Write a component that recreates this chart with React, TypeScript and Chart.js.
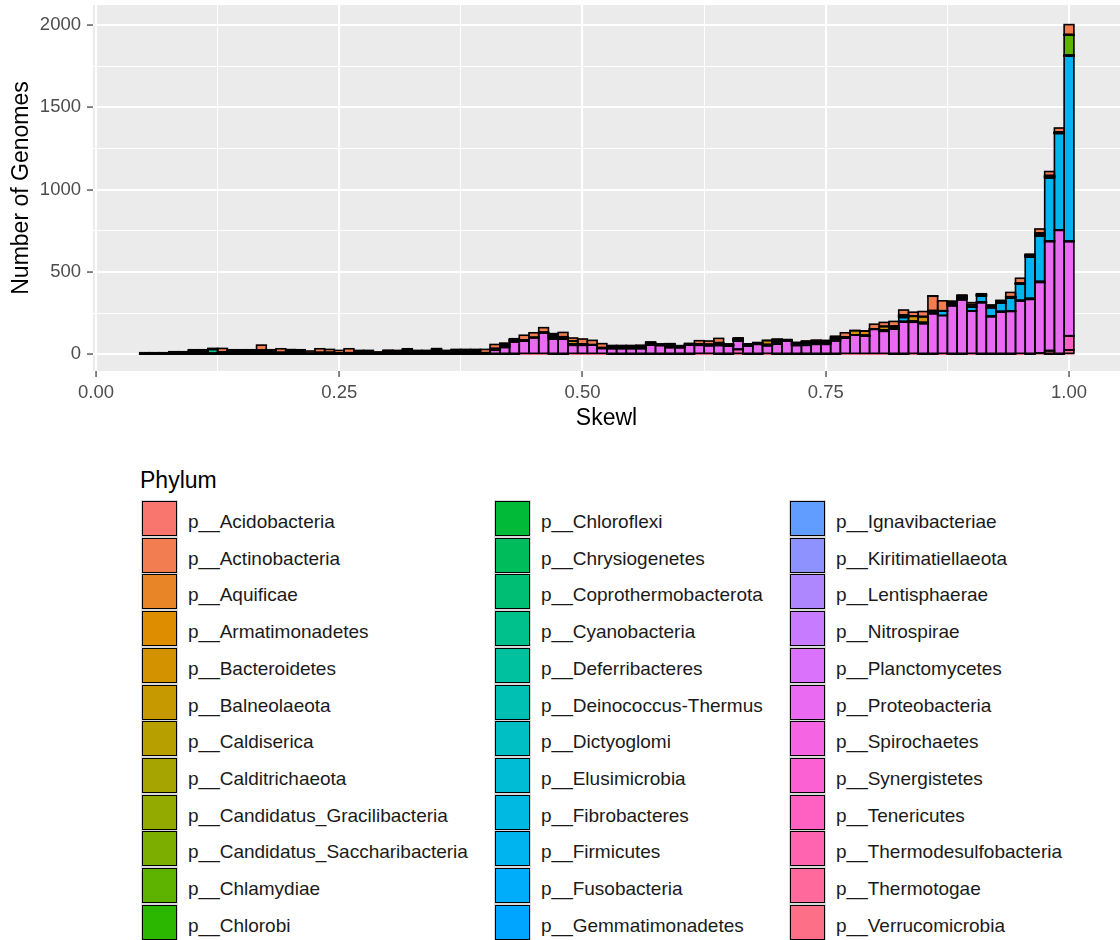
import React, { useEffect, useRef } from "react";
import { Chart, registerables } from "chart.js";

Chart.register(...registerables);

const FONT = '"Liberation Sans", Arial, Helvetica, sans-serif';

// ---- categories (histogram bin centres, binwidth 0.01) ----
const binCenters = [
  0.05, 0.06, 0.07, 0.08, 0.09, 0.10, 0.11, 0.12, 0.13, 0.14, 0.15, 0.16,
  0.17, 0.18, 0.19, 0.20, 0.21, 0.22, 0.23, 0.24, 0.25, 0.26, 0.27, 0.28,
  0.29, 0.30, 0.31, 0.32, 0.33, 0.34, 0.35, 0.36, 0.37, 0.38, 0.39, 0.40,
  0.41, 0.42, 0.43, 0.44, 0.45, 0.46, 0.47, 0.48, 0.49, 0.50, 0.51, 0.52,
  0.53, 0.54, 0.55, 0.56, 0.57, 0.58, 0.59, 0.60, 0.61, 0.62, 0.63, 0.64,
  0.65, 0.66, 0.67, 0.68, 0.69, 0.70, 0.71, 0.72, 0.73, 0.74, 0.75, 0.76,
  0.77, 0.78, 0.79, 0.80, 0.81, 0.82, 0.83, 0.84, 0.85, 0.86, 0.87, 0.88,
  0.89, 0.90, 0.91, 0.92, 0.93, 0.94, 0.95, 0.96, 0.97, 0.98, 0.99, 1.00,
];

// ---- tick labels ----
const xMajorTicks = [0, 0.25, 0.5, 0.75, 1];
const xTickLabels = ["0.00", "0.25", "0.50", "0.75", "1.00"];
const xMinorTicks = [0.125, 0.375, 0.625, 0.875];
const yMajorTicks = [0, 500, 1000, 1500, 2000];
const yTickLabels = ["0", "500", "1000", "1500", "2000"];
const yMinorTicks = [250, 750, 1250, 1750];

const xTitle = "Skewl";
const yTitle = "Number of Genomes";
const legendTitle = "Phylum";

// ---- phyla (legend order) ----
const phyla = [
  "p__Acidobacteria", "p__Actinobacteria", "p__Aquificae", "p__Armatimonadetes",
  "p__Bacteroidetes", "p__Balneolaeota", "p__Caldiserica", "p__Calditrichaeota",
  "p__Candidatus_Gracilibacteria", "p__Candidatus_Saccharibacteria", "p__Chlamydiae", "p__Chlorobi",
  "p__Chloroflexi", "p__Chrysiogenetes", "p__Coprothermobacterota", "p__Cyanobacteria",
  "p__Deferribacteres", "p__Deinococcus-Thermus", "p__Dictyoglomi", "p__Elusimicrobia",
  "p__Fibrobacteres", "p__Firmicutes", "p__Fusobacteria", "p__Gemmatimonadetes",
  "p__Ignavibacteriae", "p__Kiritimatiellaeota", "p__Lentisphaerae", "p__Nitrospirae",
  "p__Planctomycetes", "p__Proteobacteria", "p__Spirochaetes", "p__Synergistetes",
  "p__Tenericutes", "p__Thermodesulfobacteria", "p__Thermotogae", "p__Verrucomicrobia",
];

// ---- counts per bin (12 bins per group) ----
const acidobacteria = [
  0,0,0,0,0,0,0,0,0,0,0,0, 0,0,0,0,0,0,0,0,0,0,0,0, 0,0,0,0,0,0,0,0,0,0,0,0, 0,0,0,0,0,0,0,0,0,0,0,0,
  0,0,0,0,0,0,0,0,0,0,0,0, 0,0,0,0,0,0,0,0,0,0,0,0, 0,0,0,0,0,0,0,0,0,2,0,0, 0,0,0,1,0,0,0,0,0,0,0,0,
];
const actinobacteria = [
  0,0,0,0,0,0,0,0,22,0,0,0, 30,0,22,0,0,14,22,18,16,24,0,0, 0,0,0,0,0,0,0,0,0,0,0,20, 24,0,0,30,28,28,0,26,18,30,26,24,
  0,0,0,0,0,0,0,0,0,20,20,26, 0,0,0,0,0,0,0,0,0,0,0,0, 26,0,0,28,24,28,30,24,30,87,60,0, 0,12,0,0,0,26,30,0,24,24,24,60,
];
const aquificae = [
  0,0,0,0,0,0,0,0,0,0,0,0, 0,0,0,0,0,0,0,0,0,0,0,0, 0,0,0,0,0,0,0,0,0,0,0,0, 0,0,0,0,0,0,0,0,0,0,0,0,
  0,0,0,0,0,0,0,0,0,0,0,0, 0,0,0,0,0,1,0,0,0,0,0,0, 0,0,0,0,0,0,0,0,0,0,0,0, 0,0,0,0,0,0,0,0,0,0,0,0,
];
const armatimonadetes = [
  2,1,2,2,2,4,3,2,2,4,3,4, 3,3,2,4,3,1,2,1,1,2,3,3, 2,3,3,4,3,3,4,3,4,3,4,2, 2,4,3,1,1,1,4,2,1,1,1,1,
  3,2,3,2,3,2,3,2,1,1,1,3, 2,3,2,2,1,4,2,3,4,3,3,4, 1,1,1,1,1,3,3,1,2,3,1,4, 4,1,3,3,3,2,1,3,3,3,2,2,
];
const bacteroidetes = [
  0,0,0,0,0,0,0,0,0,0,0,0, 0,0,0,0,0,0,0,0,0,0,0,0, 0,0,0,0,0,0,0,0,0,0,0,0, 0,0,0,0,0,0,0,0,18,0,0,0,
  0,0,0,0,0,0,0,0,0,0,0,0, 0,0,0,0,24,0,0,0,0,0,0,0, 0,26,26,0,20,0,0,30,34,0,0,0, 0,12,0,0,0,0,0,0,0,0,0,0,
];
const balneolaeota = [
  0,0,0,0,0,0,0,0,0,0,0,0, 0,0,0,0,0,0,0,0,0,0,0,0, 0,0,0,0,0,0,0,0,0,0,0,0, 0,0,0,0,0,0,0,0,0,0,0,0,
  0,0,0,0,0,0,0,0,0,0,0,0, 0,0,0,0,0,0,0,0,0,0,0,0, 0,0,0,0,2,0,0,0,0,0,0,0, 0,0,0,0,0,0,0,0,0,0,0,0,
];
const caldiserica = [
  0,0,0,0,0,0,0,0,0,0,0,0, 0,0,0,0,0,0,0,0,0,0,0,0, 0,0,0,0,0,0,0,0,0,0,0,0, 0,0,0,0,0,0,0,0,0,0,0,0,
  0,0,0,1,0,0,0,0,0,0,0,0, 0,0,0,0,0,0,0,0,0,0,0,0, 0,0,0,0,0,0,0,0,0,0,0,0, 0,0,0,0,0,0,0,0,0,0,0,0,
];
const calditrichaeota = [
  0,0,0,0,0,0,0,0,0,0,0,0, 0,0,0,0,0,0,0,0,0,0,0,0, 0,0,0,0,0,0,0,0,0,0,0,0, 0,0,0,0,0,0,0,0,0,0,0,0,
  0,0,0,0,0,0,0,0,0,0,0,0, 0,0,0,0,0,0,0,0,0,0,0,0, 0,0,0,0,0,0,0,0,0,0,0,0, 1,0,0,0,0,0,0,0,0,0,0,0,
];
const gracilibacteria = [
  0,0,0,0,0,0,0,0,0,0,0,0, 0,0,0,0,0,0,0,0,0,0,0,0, 0,0,0,0,0,0,1,0,0,0,0,0, 0,0,0,0,0,0,0,0,0,0,0,0,
  0,0,0,0,0,0,0,0,0,0,0,0, 0,0,0,0,0,0,0,0,0,0,0,0, 0,0,0,0,0,0,0,0,0,0,0,0, 0,0,0,0,0,0,0,0,0,0,0,0,
];
const saccharibacteria = [
  1,2,1,2,2,3,4,1,2,3,3,3, 3,4,1,3,3,1,1,2,1,1,3,3, 2,3,3,4,3,3,4,3,3,4,3,1, 1,3,2,1,0,0,4,2,1,1,0,1,
  2,3,2,3,2,1,3,2,2,1,1,2, 2,2,1,1,1,4,1,2,3,3,3,3, 1,0,1,0,1,2,2,1,1,2,0,3, 3,0,2,3,2,1,1,3,3,2,1,1,
];
const chlamydiae = [
  0,0,0,0,0,0,0,0,0,0,0,0, 0,0,0,0,0,0,0,0,0,0,0,0, 0,0,0,0,0,0,0,0,0,0,0,0, 0,0,0,0,0,0,0,0,0,0,0,0,
  0,0,0,0,0,0,0,0,0,0,0,0, 0,0,0,0,0,0,0,0,0,0,0,0, 0,0,0,0,0,0,0,0,0,0,0,0, 0,0,0,0,0,0,0,0,0,0,0,123,
];
const chlorobi = [
  1,1,1,2,2,3,3,2,2,3,4,3, 4,3,2,3,4,1,2,1,1,1,3,3, 2,3,3,4,3,3,4,3,4,4,4,1, 2,3,3,1,0,1,4,2,1,1,0,0,
  3,2,2,3,3,1,3,1,1,1,1,2, 1,3,2,2,1,4,1,3,3,3,3,4, 0,0,0,1,1,3,3,0,1,3,1,3, 4,1,3,2,3,1,0,3,3,3,2,1,
];
const chloroflexi = [
  1,1,1,2,2,3,4,1,1,3,3,4, 3,3,1,3,3,0,1,2,1,1,3,3, 1,3,3,4,3,2,4,3,3,3,4,1, 1,3,2,0,1,0,4,2,1,1,1,1,
  2,3,3,2,2,1,3,2,1,1,1,2, 2,2,2,1,1,3,1,2,3,3,3,3, 1,1,1,0,1,2,2,1,1,2,0,3, 3,0,2,2,2,1,1,3,3,2,1,1,
];
const chrysiogenetes = [
  0,0,0,0,0,0,0,0,0,0,0,0, 0,0,0,0,0,0,0,0,0,0,0,0, 0,0,0,0,0,0,0,0,0,0,0,0, 0,0,0,0,0,0,0,0,0,0,0,0,
  0,0,0,0,0,0,0,0,0,0,0,0, 0,0,0,0,0,0,0,0,0,1,0,0, 0,0,0,0,0,0,0,0,0,0,0,0, 0,0,0,0,0,0,0,0,0,0,0,0,
];
const coprothermobacterota = [
  0,0,0,0,0,0,0,0,0,0,0,0, 0,0,0,1,0,0,0,0,0,0,0,0, 0,0,0,0,0,0,0,0,0,0,0,0, 0,0,0,0,0,0,0,0,0,0,0,0,
  0,0,0,0,0,0,0,0,0,0,0,0, 0,0,0,0,0,0,0,0,0,0,0,0, 0,0,0,0,0,0,0,0,0,0,0,0, 0,0,0,0,0,0,0,0,0,0,0,0,
];
const cyanobacteria = [
  1,1,1,2,2,4,3,24,2,4,3,3, 3,4,1,4,3,1,1,2,1,1,3,3, 2,3,3,4,3,3,4,3,4,4,3,1, 1,4,2,1,0,0,4,2,1,1,0,0,
  2,3,2,2,2,1,3,1,1,1,1,2, 1,2,1,1,1,4,1,2,4,3,3,4, 0,0,0,0,1,2,2,0,1,2,0,4, 4,1,2,3,2,1,0,3,3,2,1,1,
];
const deferribacteres = [
  0,0,0,0,0,0,0,0,0,0,0,0, 0,0,0,0,0,0,0,0,0,0,0,0, 0,0,0,0,0,0,0,0,0,0,0,0, 0,0,0,0,0,0,0,0,0,0,0,0,
  0,0,0,0,0,0,0,0,0,0,0,0, 0,0,0,0,0,0,0,0,0,0,0,0, 0,0,0,0,0,0,0,0,0,0,0,2, 0,0,0,0,0,0,0,0,0,0,0,0,
];
const deinococcusThermus = [
  1,1,1,2,2,3,3,2,1,3,4,3, 3,3,2,3,4,1,2,1,1,1,3,3, 1,3,2,4,3,3,4,3,3,3,3,1, 2,3,3,1,0,1,4,2,1,1,0,1,
  3,2,3,2,3,1,3,2,1,1,1,2, 2,3,2,2,1,3,1,3,3,3,3,3, 1,0,1,1,1,3,3,1,1,3,1,3, 3,0,3,2,3,1,1,3,3,3,2,1,
];
const dictyoglomi = [
  0,0,0,0,0,0,0,0,0,0,0,0, 0,0,0,0,0,0,0,0,0,0,0,0, 0,0,0,0,0,0,0,0,0,0,0,0, 0,0,0,0,0,0,0,0,0,0,0,0,
  0,0,0,0,0,0,0,0,1,0,0,0, 0,0,0,0,0,0,0,0,0,0,0,0, 0,0,0,0,0,0,0,0,0,0,0,0, 0,0,0,0,0,0,0,0,0,0,0,0,
];
const elusimicrobia = [
  0,0,0,0,0,0,0,0,0,0,0,0, 0,0,0,0,0,0,0,0,0,0,0,0, 0,0,0,0,0,0,0,0,0,0,0,0, 0,0,0,0,0,0,0,0,0,0,0,0,
  0,0,0,0,0,0,0,0,0,0,0,0, 0,0,0,0,0,0,0,0,0,0,0,0, 0,0,0,0,0,0,0,0,0,0,0,0, 0,0,0,0,2,0,0,0,0,0,0,0,
];
const fibrobacteres = [
  0,0,0,0,0,0,0,0,0,0,0,0, 0,0,0,0,0,0,0,0,0,0,0,0, 0,0,0,0,0,0,0,0,0,0,0,0, 0,0,0,0,0,0,0,0,0,0,0,0,
  0,0,0,0,0,0,0,0,0,0,0,0, 0,0,0,0,0,0,0,0,0,0,0,0, 0,0,1,0,0,0,0,0,0,0,0,0, 0,0,0,0,0,0,0,0,0,0,0,0,
];
const firmicutes = [
  0,0,0,0,0,0,0,0,0,0,0,0, 0,0,0,0,0,0,0,0,0,0,0,0, 0,0,0,0,0,0,0,0,0,0,0,0, 0,0,0,0,0,0,0,0,0,0,0,0,
  0,0,0,0,0,0,0,0,0,0,0,0, 0,0,0,0,0,0,0,0,0,0,0,0, 0,0,0,0,0,0,24,0,0,0,26,0, 0,24,34,50,50,80,100,250,276,382,586,1125,
];
const fusobacteria = [
  1,1,1,2,2,3,3,1,2,3,3,3, 3,3,1,3,3,0,1,1,1,1,2,3, 2,2,3,4,2,3,4,3,3,4,3,1, 1,3,2,0,0,0,4,2,1,1,0,0,
  2,2,2,3,2,1,3,1,1,1,1,2, 1,2,1,1,1,3,1,2,3,3,3,3, 0,0,0,0,1,2,2,0,1,2,0,3, 3,0,2,2,2,1,0,3,3,2,1,1,
];
const gemmatimonadetes = [
  0,0,0,0,0,0,0,0,0,0,0,0, 0,0,0,0,0,0,0,0,0,0,0,0, 0,0,0,0,0,0,0,0,0,0,0,0, 0,0,0,0,0,0,0,0,0,0,0,0,
  0,0,0,0,0,0,0,0,0,0,0,0, 0,0,0,0,0,0,0,0,0,0,0,0, 0,0,0,0,0,0,0,0,0,0,0,0, 0,0,0,0,0,0,2,0,0,0,0,0,
];
const ignavibacteriae = [
  0,0,0,0,0,0,0,0,0,0,0,0, 0,0,0,0,0,0,0,0,0,0,0,0, 0,0,0,0,0,0,0,0,0,0,0,0, 0,0,0,0,0,0,0,0,0,0,1,0,
  0,0,0,0,0,0,0,0,0,0,0,0, 0,0,0,0,0,0,0,0,0,0,0,0, 0,0,0,0,0,0,0,0,0,0,0,0, 0,0,0,0,0,0,0,0,0,0,0,0,
];
const kiritimatiellaeota = [
  0,0,0,0,0,0,0,0,0,0,0,0, 0,0,0,0,0,0,0,0,0,0,0,0, 0,0,0,0,0,0,0,0,0,0,0,0, 0,0,0,0,0,0,0,0,0,0,0,0,
  0,0,0,0,0,0,0,0,0,0,0,0, 0,0,1,0,0,0,0,0,0,0,0,0, 0,0,0,0,0,0,0,0,0,0,0,0, 0,0,0,0,0,0,0,0,0,0,0,0,
];
const lentisphaerae = [
  0,0,0,0,0,0,0,0,0,0,0,0, 0,0,0,0,0,0,0,0,0,0,0,0, 0,0,0,0,0,0,0,0,0,0,0,0, 0,0,0,0,0,0,0,0,0,0,0,0,
  0,0,0,0,0,0,0,0,0,0,0,0, 0,0,0,0,0,0,0,0,0,0,0,0, 0,0,0,0,0,0,0,0,0,0,0,0, 0,0,1,0,0,0,0,0,0,0,0,0,
];
const nitrospirae = [
  0,0,0,0,0,0,0,0,0,0,0,0, 0,0,0,0,0,0,0,0,0,0,0,0, 0,0,0,0,0,0,0,0,0,0,0,0, 0,0,0,0,0,0,0,0,0,0,0,0,
  0,0,0,0,0,0,0,0,0,0,0,0, 0,0,0,0,0,0,0,0,0,0,0,0, 0,0,0,0,0,0,0,2,0,0,0,0, 0,0,0,0,0,0,0,0,0,0,0,0,
];
const planctomycetes = [
  1,1,1,1,1,3,3,2,1,3,3,3, 3,3,1,3,3,1,1,1,1,1,3,2, 1,3,3,4,3,3,4,2,4,3,4,1, 1,3,2,1,0,0,5,1,1,1,0,1,
  2,2,2,2,2,1,3,1,1,1,1,2, 1,2,1,1,1,4,1,2,3,3,3,4, 1,0,1,0,1,2,2,1,1,2,0,3, 4,1,2,2,2,1,1,3,3,2,1,1,
];
const proteobacteria = [
  0,0,0,0,0,0,0,0,0,0,0,0, 0,0,0,0,0,0,0,0,0,0,0,0, 0,0,0,0,0,0,0,0,0,0,0,0,
  24,40,75,80,101,131,91,91,55,55,56,36,
  34,34,34,34,55,53,40,40,55,55,53,53,
  50,50,50,60,53,60,80,53,53,60,60,80,
  100,117,111,152,140,152,195,195,186,246,236,293,
  329,262,313,228,256,260,325,333,428,662,750,572,
];
const spirochaetes = [
  1,1,1,1,1,2,2,1,1,2,2,2, 1,2,1,2,2,0,1,1,0,1,1,1, 1,1,1,2,1,1,2,1,2,2,2,1, 1,2,1,0,0,0,2,1,0,0,0,0,
  1,1,1,1,1,1,1,1,1,0,0,1, 1,1,1,1,0,2,1,1,2,1,1,2, 0,0,0,0,0,1,1,0,1,1,0,2, 2,0,1,1,1,1,0,1,1,1,1,1,
];
const synergistetes = [
  0,0,0,0,0,0,0,0,0,0,0,0, 0,0,0,0,0,0,0,0,0,0,0,0, 0,0,0,0,0,0,0,0,0,0,0,0, 0,0,0,0,0,0,0,0,0,0,0,0,
  0,0,0,0,0,0,0,0,0,0,0,0, 0,0,0,0,0,0,0,0,0,0,0,0, 0,0,0,0,0,0,0,0,0,0,0,0, 0,0,0,0,0,0,0,0,0,0,2,0,
];
const tenericutes = [
  0,0,0,0,0,0,0,0,0,0,0,0, 0,0,0,0,0,0,0,0,0,0,0,0, 0,0,0,0,0,0,0,0,0,0,0,0, 0,0,0,0,0,0,0,0,0,0,0,0,
  0,0,0,0,0,0,0,0,0,0,0,0, 0,30,0,0,0,0,0,0,0,0,0,0, 0,0,0,0,0,0,0,0,0,0,0,0, 0,0,0,0,0,0,0,0,0,0,0,85,
];
const thermodesulfobacteria = [
  0,0,0,0,0,0,0,0,0,0,0,0, 0,0,0,0,0,0,0,0,0,0,0,0, 0,1,0,0,0,0,0,0,0,0,0,0, 0,0,0,0,0,0,0,0,0,0,0,0,
  0,0,0,0,0,0,0,0,0,0,0,0, 0,0,0,0,0,0,0,0,0,0,0,0, 0,0,0,0,0,0,0,0,0,0,0,0, 0,0,0,0,0,0,0,0,0,0,0,0,
];
const thermotogae = [
  0,0,0,0,0,0,0,0,0,0,0,0, 0,0,0,0,0,0,0,0,0,0,0,0, 0,0,0,0,0,0,0,0,0,0,0,0, 0,0,0,0,0,0,0,0,0,0,0,0,
  0,0,0,0,0,0,0,0,0,0,0,0, 0,0,0,0,0,0,0,0,0,0,0,0, 0,0,0,0,0,0,0,0,0,0,0,0, 0,0,0,0,0,0,0,0,8,20,0,27,
];
const verrucomicrobia = [
  0,0,0,0,0,0,0,0,0,0,0,0, 0,0,0,0,0,0,0,0,0,0,0,0, 0,0,0,0,0,0,0,0,0,0,0,0, 0,0,0,0,0,0,0,0,0,0,0,0,
  0,0,0,0,0,0,0,0,0,0,0,0, 0,0,0,0,0,0,0,0,0,0,0,0, 0,0,0,0,0,0,0,0,0,0,0,0, 0,0,0,0,0,0,0,0,0,2,0,0,
];

// series in the same order as `phyla`
const seriesList = [
  acidobacteria, actinobacteria, aquificae, armatimonadetes,
  bacteroidetes, balneolaeota, caldiserica, calditrichaeota,
  gracilibacteria, saccharibacteria, chlamydiae, chlorobi,
  chloroflexi, chrysiogenetes, coprothermobacterota, cyanobacteria,
  deferribacteres, deinococcusThermus, dictyoglomi, elusimicrobia,
  fibrobacteres, firmicutes, fusobacteria, gemmatimonadetes,
  ignavibacteriae, kiritimatiellaeota, lentisphaerae, nitrospirae,
  planctomycetes, proteobacteria, spirochaetes, synergistetes,
  tenericutes, thermodesulfobacteria, thermotogae, verrucomicrobia,
];

// ggplot2 default discrete hue palette (hcl, c = 100, l = 65)
function hclHex(h: number, c: number, l: number): string {
  const rad = (h * Math.PI) / 180;
  const U = c * Math.cos(rad);
  const V = c * Math.sin(rad);
  const Y = l > 7.999592 ? Math.pow((l + 16) / 116, 3) : l / 903.3;
  const u = U / (13 * l) + 0.1978398;
  const v = V / (13 * l) + 0.4683363;
  const X = (9 * Y * u) / (4 * v);
  const Z = -X / 3 - 5 * Y + (3 * Y) / v;
  const g = (t: number) => (t > 0.00304 ? 1.055 * Math.pow(t, 1 / 2.4) - 0.055 : 12.92 * t);
  const r = g(3.240479 * X - 1.53715 * Y - 0.498535 * Z);
  const gg = g(-0.969256 * X + 1.875992 * Y + 0.041556 * Z);
  const b = g(0.055648 * X - 0.204043 * Y + 1.057311 * Z);
  const hx = (t: number) => {
    const n = Math.round(Math.min(1, Math.max(0, t)) * 255);
    return n.toString(16).padStart(2, "0");
  };
  return "#" + hx(r) + hx(gg) + hx(b);
}
function huePalette(n: number): string[] {
  const out: string[] = [];
  for (let i = 0; i < n; i++) out.push(hclHex(15 + (360 / n) * i, 100, 65));
  return out;
}
const palette = huePalette(phyla.length);

// ggplot-style black outline around every stacked segment
const outlinePlugin = {
  id: "segmentOutline",
  afterDatasetsDraw(chart: any) {
    const { ctx, chartArea } = chart;
    ctx.save();
    ctx.beginPath();
    ctx.rect(chartArea.left, chartArea.top, chartArea.right - chartArea.left, chartArea.bottom - chartArea.top);
    ctx.clip();
    ctx.strokeStyle = "#000000";
    ctx.lineWidth = 1.6;
    chart.data.datasets.forEach((ds: any, i: number) => {
      const meta = chart.getDatasetMeta(i);
      meta.data.forEach((el: any, j: number) => {
        const val = ds.data[j].y;
        if (!val) return;
        const p = el.getProps(["x", "y", "base", "width"], true);
        const top = Math.min(p.y, p.base);
        ctx.strokeRect(p.x - p.width / 2, top, p.width, Math.abs(p.base - p.y));
      });
    });
    ctx.restore();
  },
};

const panelPlugin = {
  id: "panelBg",
  beforeDraw(chart: any) {
    const { ctx, chartArea } = chart;
    ctx.save();
    ctx.fillStyle = "#EBEBEB";
    ctx.fillRect(chartArea.left, chartArea.top, chartArea.right - chartArea.left, chartArea.bottom - chartArea.top);
    ctx.restore();
  },
};

function HistogramChart() {
  const ref = useRef<HTMLCanvasElement | null>(null);
  useEffect(() => {
    if (!ref.current) return;
    const datasets = phyla
      .map((name, i) => ({
        label: name,
        data: binCenters.map((x, j) => ({ x, y: seriesList[i][j] })),
        backgroundColor: palette[i],
        borderWidth: 0,
        barPercentage: 1,
        categoryPercentage: 1,
      }))
      .reverse();
    const isXMajor = (v: number) => xMajorTicks.indexOf(v) >= 0;
    const isYMajor = (v: number) => yMajorTicks.indexOf(v) >= 0;
    const chart = new Chart(ref.current, {
      type: "bar",
      data: { datasets },
      options: {
        animation: false,
        responsive: false,
        devicePixelRatio: 1,
        layout: { padding: { top: 5, left: 0, right: 0, bottom: 0 } },
        plugins: { legend: { display: false }, tooltip: { enabled: false } },
        scales: {
          x: {
            type: "linear",
            stacked: true,
            offset: false,
            min: -0.00308,
            max: 1.0524,
            afterBuildTicks: (s: any) => {
              s.ticks = [...xMajorTicks, ...xMinorTicks].sort((a, b) => a - b).map((v) => ({ value: v }));
            },
            afterFit: (s: any) => {
              s.height = 69;
              s.paddingLeft = 0;
              s.paddingRight = 0;
              s.paddingTop = 0;
              s.paddingBottom = 0;
            },
            border: { display: false },
            grid: {
              offset: false,
              color: "#FFFFFF",
              lineWidth: (c: any) => (c.tick && isXMajor(c.tick.value) ? 2.1 : 1),
              tickLength: 6,
              tickWidth: 1.2,
              tickColor: (c: any) => (c.tick && isXMajor(c.tick.value) ? "#333333" : "rgba(0,0,0,0)"),
            },
            ticks: {
              autoSkip: false,
              maxRotation: 0,
              padding: 5,
              color: "#4D4D4D",
              font: { family: FONT, size: 18.5 },
              callback: (v: any) => {
                const k = xMajorTicks.indexOf(Number(v));
                return k >= 0 ? xTickLabels[k] : "";
              },
            },
            title: {
              display: true,
              text: xTitle,
              color: "#000000",
              font: { family: FONT, size: 23 },
              padding: { top: 0, bottom: 8 },
            },
          },
          y: {
            type: "linear",
            stacked: true,
            min: -101,
            max: 2121,
            afterBuildTicks: (s: any) => {
              s.ticks = [...yMajorTicks, ...yMinorTicks].sort((a, b) => a - b).map((v) => ({ value: v }));
            },
            afterFit: (s: any) => {
              s.width = 93;
              s.paddingTop = 0;
              s.paddingBottom = 0;
              s.paddingLeft = 0;
              s.paddingRight = 0;
            },
            border: { display: false },
            grid: {
              color: "#FFFFFF",
              lineWidth: (c: any) => (c.tick && isYMajor(c.tick.value) ? 2.1 : 1),
              tickLength: 6,
              tickWidth: 1.2,
              tickColor: (c: any) => (c.tick && isYMajor(c.tick.value) ? "#333333" : "rgba(0,0,0,0)"),
            },
            ticks: {
              autoSkip: false,
              padding: 6,
              color: "#4D4D4D",
              font: { family: FONT, size: 18.5 },
              callback: (v: any) => {
                const k = yMajorTicks.indexOf(Number(v));
                return k >= 0 ? yTickLabels[k] : "";
              },
            },
            title: {
              display: true,
              text: yTitle,
              color: "#000000",
              font: { family: FONT, size: 23 },
              padding: { top: 8, bottom: 0 },
            },
          },
        },
      },
      plugins: [panelPlugin, outlinePlugin],
    } as any);
    return () => chart.destroy();
  }, []);
  return (
    <canvas
      ref={ref}
      width={1120}
      height={440}
      style={{ position: "absolute", left: 0, top: 0, width: 1120, height: 440, display: "block" }}
    />
  );
}

const legendColX = [142, 495, 790];
const legendTop = 501;
const legendRowPitch = 36.7;
const keySize = 35;

function Legend() {
  const rowsPerCol = 12;
  return (
    <>
      <div
        style={{
          position: "absolute",
          left: 140,
          top: 468.5,
          fontFamily: FONT,
          fontSize: 23,
          lineHeight: "23px",
          color: "#000",
          whiteSpace: "nowrap",
        }}
      >
        {legendTitle}
      </div>
      {phyla.map((name, i) => {
        const col = Math.floor(i / rowsPerCol);
        const row = i % rowsPerCol;
        const x = legendColX[col];
        const y = legendTop + row * legendRowPitch;
        return (
          <React.Fragment key={name}>
            <div
              style={{
                position: "absolute",
                left: x - 1,
                top: y - 1,
                width: keySize + 2,
                height: keySize + 2,
                background: "#D9D9D9",
              }}
            />
            <div
              style={{
                position: "absolute",
                left: x,
                top: y,
                width: keySize,
                height: keySize,
                boxSizing: "border-box",
                border: "1.5px solid #000",
                background: palette[i],
              }}
            />
            <div
              style={{
                position: "absolute",
                left: x + 46,
                top: y + 3,
                height: keySize,
                lineHeight: keySize + "px",
                fontFamily: FONT,
                fontSize: 19,
                color: "#1A1A1A",
                whiteSpace: "nowrap",
              }}
            >
              {name}
            </div>
          </React.Fragment>
        );
      })}
    </>
  );
}

export default function App() {
  return (
    <div
      style={{
        position: "absolute",
        left: 0,
        top: 0,
        width: 1120,
        height: 940,
        background: "#FFFFFF",
        overflow: "hidden",
      }}
    >
      <HistogramChart />
      <Legend />
    </div>
  );
}
